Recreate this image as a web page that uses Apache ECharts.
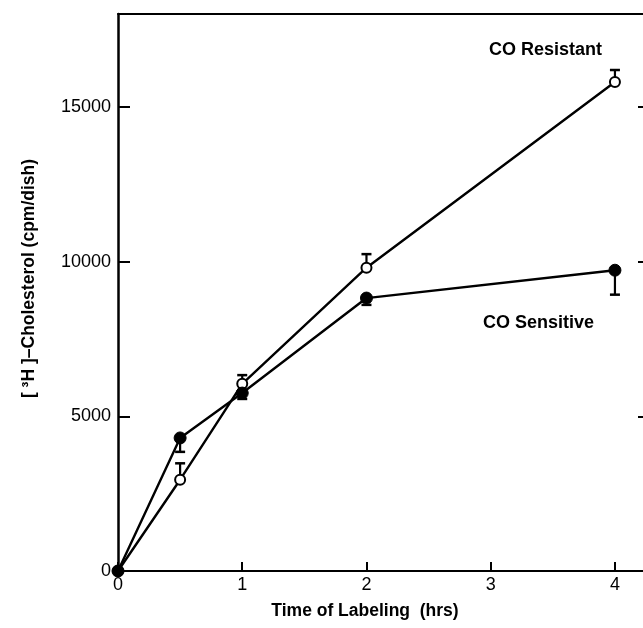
<!DOCTYPE html>
<html><head><meta charset="utf-8">
<script src="https://cdn.jsdelivr.net/npm/echarts@6/dist/echarts.min.js"></script>
<style>html,body{margin:0;padding:0;background:#fff}#c{width:643px;height:628px}</style>
</head><body><div id="c"></div>
<script>
var times = [0, 0.5, 1, 2, 4];
var resistant = [0, 2950, 6050, 9800, 15800];
var resistantErrHi = [0, 3480, 6330, 10240, 16190];
var sensitive = [0, 4300, 5750, 8820, 9720];
var sensitiveErrLo = [0, 3850, 5560, 8600, 8930];
var xTicks = [0, 1, 2, 3, 4];
var yTicks = [0, 5000, 10000, 15000];

var font = 'Liberation Sans';
function pairs(xs, ys){ return xs.map(function(x,i){ return [x, ys[i]]; }); }
function errData(xs, ys, es){ var out=[]; xs.forEach(function(x,i){ if(es[i]!==ys[i]) out.push([x, ys[i], es[i]]); }); return out; }
function errRender(params, api){
  var x = api.value(0), y = api.value(1), e = api.value(2);
  var p1 = api.coord([x, y]), p2 = api.coord([x, e]);
  var cap = 5;
  return {type:'group', children:[
    {type:'line', shape:{x1:p1[0],y1:p1[1],x2:p2[0],y2:p2[1]}, style:{stroke:'#000',lineWidth:2.2}},
    {type:'line', shape:{x1:p2[0]-cap,y1:p2[1],x2:p2[0]+cap,y2:p2[1]}, style:{stroke:'#000',lineWidth:2.5}}
  ]};
}
var chart = echarts.init(document.getElementById('c'), null, {renderer:'canvas'});
chart.setOption({
  animation:false,
  backgroundColor:'#fff',
  grid:{left:118, right:-3, top:14, bottom:57, containLabel:false, outerBoundsMode:'none'},
  xAxis:[{
    type:'value', min:0, max:4.25, interval:1,
    name:'Time of Labeling  (hrs)', nameLocation:'middle', nameGap:31,
    nameTextStyle:{fontFamily:font, fontSize:17.5, fontWeight:'bold', color:'#000', padding:[0,34,0,0]},
    axisLine:{onZero:false, lineStyle:{color:'#000', width:2}},
    axisTick:{inside:true, length:9, lineStyle:{color:'#000', width:2}},
    axisLabel:{fontFamily:font, fontSize:18, color:'#000', margin:5, showMaxLabel:false,
      formatter:function(v){ return xTicks.indexOf(v)>=0 ? String(v) : ''; }},
    splitLine:{show:false}
  },{
    type:'value', position:'top', min:0, max:4.25,
    axisLine:{show:true, onZero:false, lineStyle:{color:'#000', width:2}},
    axisTick:{show:false}, axisLabel:{show:false}, splitLine:{show:false}
  }],
  yAxis:[{
    type:'value', min:0, max:18000, interval:5000,
    name:'[ ³H ]–Cholesterol (cpm/dish)', nameLocation:'middle', nameGap:80,
    nameTextStyle:{fontFamily:font, fontSize:17.5, fontWeight:'bold', color:'#000', padding:[0,0,0,28]},
    axisLine:{show:true, onZero:false, lineStyle:{color:'#000', width:2.5}},
    axisTick:{show:true, inside:true, length:12, lineStyle:{color:'#000', width:2}},
    axisLabel:{fontFamily:font, fontSize:18, color:'#000', margin:7,
      formatter:function(v){ return yTicks.indexOf(v)>=0 ? String(v) : ''; }},
    splitLine:{show:false}
  },{
    type:'value', position:'right', min:0, max:18000, interval:5000,
    axisLine:{show:true, onZero:false, lineStyle:{color:'#000', width:2}},
    axisTick:{show:true, inside:true, length:8, lineStyle:{color:'#000', width:2}},
    axisLabel:{show:false}, splitLine:{show:false}
  }],
  series:[
    {type:'line', name:'CO Resistant', data:pairs(times, resistant), xAxisIndex:0, yAxisIndex:0,
      symbol:'circle', symbolSize:10, showAllSymbol:true,
      itemStyle:{color:'#fff', borderColor:'#000', borderWidth:2},
      lineStyle:{color:'#000', width:2.4}, z:3},
    {type:'line', name:'CO Sensitive', data:pairs(times, sensitive), xAxisIndex:0, yAxisIndex:0,
      symbol:'circle', symbolSize:12,
      itemStyle:{color:'#000', borderColor:'#000', borderWidth:1},
      lineStyle:{color:'#000', width:2.4}, z:3},
    {type:'custom', renderItem:errRender, data:errData(times, resistant, resistantErrHi),
      encode:{x:0, y:[1,2]}, z:2},
    {type:'custom', renderItem:errRender, data:errData(times, sensitive, sensitiveErrLo),
      encode:{x:0, y:[1,2]}, z:2}
  ],
  graphic:[
    {type:'text', left:489, top:41, style:{text:'CO Resistant', font:'bold 18px "Liberation Sans"', fill:'#000'}},
    {type:'text', left:483, top:314, style:{text:'CO Sensitive', font:'bold 18px "Liberation Sans"', fill:'#000'}}
  ]
});
</script></body></html>
